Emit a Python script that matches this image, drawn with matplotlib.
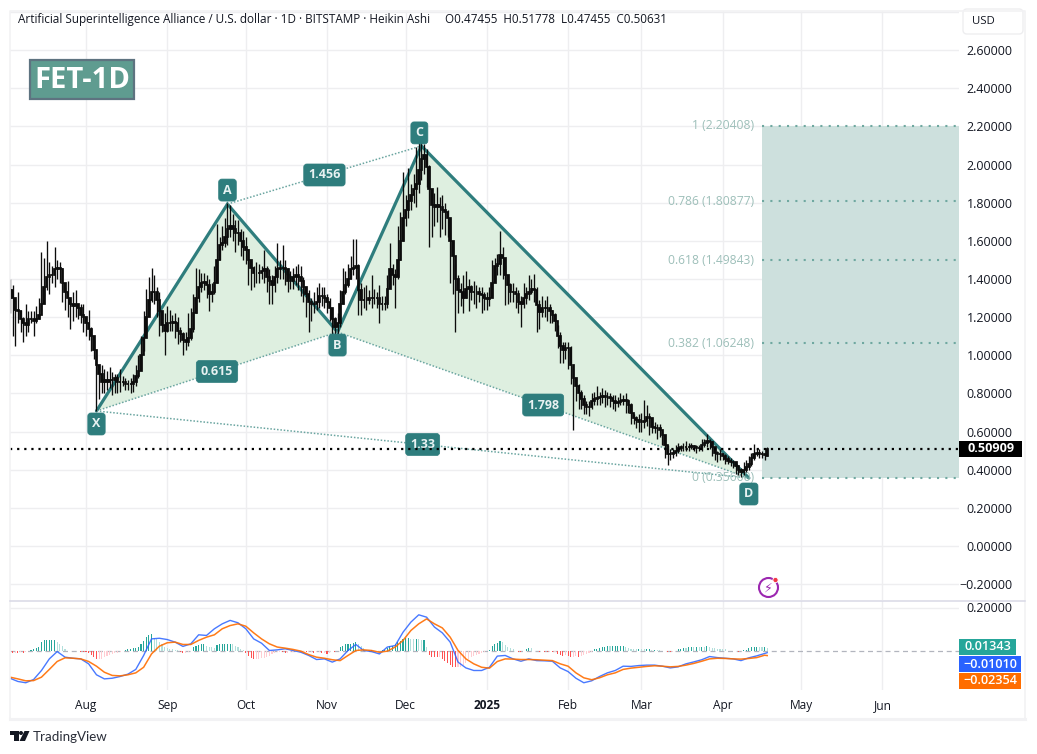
# -*- coding: utf-8 -*-
import pandas as pd
import numpy as np
import matplotlib
matplotlib.use("Agg")
from matplotlib import pyplot as plt
from matplotlib import dates as mdates
from matplotlib.patches import Rectangle, FancyBboxPatch, Polygon, Circle

W, H = 1037, 754

# one line per month, Jul 3 2024 -> Apr 18 2025 (heikin ashi)
opens = [
    1.30,1.34,1.30,1.24,1.23,1.19,1.17,1.16,1.19,1.19,1.18,1.19,1.21,1.27,1.36,1.41,1.42,1.42,1.45,1.46,1.45,1.38,1.33,1.30,1.27,1.26,1.27,1.25,1.21,
    1.20,1.17,1.14,1.10,1.03,.95,.90,.86,.87,.86,.87,.87,.88,.86,.86,.86,.85,.85,.85,.86,.89,.92,1.00,1.09,1.20,1.29,1.33,1.33,1.29,1.23,1.16,
    1.13,1.17,1.17,1.175,1.17,1.13,1.11,1.08,1.07,1.09,1.14,1.22,1.30,1.36,1.38,1.385,1.37,1.32,1.33,1.38,1.50,1.58,1.59,1.62,1.66,1.68,1.66,1.64,1.64,1.60,
    1.57,1.55,1.50,1.46,1.43,1.43,1.43,1.44,1.45,1.41,1.39,1.37,1.41,1.45,1.46,1.46,1.45,1.39,1.39,1.41,1.42,1.41,1.39,1.36,1.32,1.28,1.27,1.27,1.28,1.31,1.31,
    1.30,1.28,1.25,1.19,1.15,1.17,1.27,1.33,1.37,1.40,1.45,1.46,1.47,1.34,1.29,1.29,1.29,1.30,1.30,1.30,1.30,1.27,1.27,1.27,1.35,1.45,1.42,1.41,1.50,1.60,
    1.72,1.76,1.81,1.84,1.87,1.90,1.97,2.03,2.05,1.99,1.87,1.79,1.78,1.79,1.78,1.76,1.75,1.72,1.60,1.52,1.40,1.34,1.33,1.30,1.35,1.36,1.33,1.33,1.33,1.32,1.315,
    1.30,1.295,1.30,1.38,1.47,1.48,1.525,1.51,1.42,1.37,1.33,1.33,1.32,1.28,1.27,1.30,1.32,1.33,1.35,1.34,1.265,1.225,1.25,1.25,1.25,1.23,1.21,1.18,1.10,1.05,1.03,
    1.04,1.04,.95,.88,.84,.80,.77,.74,.73,.73,.76,.77,.775,.78,.785,.78,.78,.775,.76,.75,.755,.76,.765,.76,.74,.70,.67,.66,
    .65,.65,.655,.675,.67,.625,.62,.62,.61,.58,.53,.48,.485,.49,.50,.515,.52,.52,.52,.52,.525,.52,.515,.515,.53,.54,.55,.545,.52,.49,.48,
    .485,.47,.455,.445,.44,.44,.42,.40,.39,.40,.415,.43,.46,.485,.49,.485,.48,.47455,
]
closes = [
    1.34,1.30,1.24,1.23,1.19,1.17,1.16,1.19,1.19,1.18,1.19,1.21,1.27,1.36,1.41,1.42,1.42,1.45,1.46,1.45,1.38,1.33,1.30,1.27,1.26,1.27,1.25,1.21,1.20,
    1.17,1.14,1.10,1.03,.95,.90,.86,.87,.86,.87,.87,.88,.86,.86,.86,.85,.85,.85,.86,.89,.92,1.00,1.09,1.20,1.29,1.33,1.33,1.29,1.23,1.16,1.13,
    1.17,1.17,1.175,1.17,1.13,1.11,1.08,1.07,1.09,1.14,1.22,1.30,1.36,1.38,1.385,1.37,1.32,1.33,1.38,1.50,1.58,1.59,1.62,1.66,1.68,1.66,1.64,1.64,1.60,1.57,
    1.55,1.50,1.46,1.43,1.43,1.43,1.44,1.45,1.41,1.39,1.37,1.41,1.45,1.46,1.46,1.45,1.39,1.39,1.41,1.42,1.41,1.39,1.36,1.32,1.28,1.27,1.27,1.28,1.31,1.31,1.30,
    1.28,1.25,1.19,1.15,1.17,1.27,1.33,1.37,1.40,1.45,1.46,1.47,1.34,1.29,1.29,1.29,1.30,1.30,1.30,1.30,1.27,1.27,1.27,1.35,1.45,1.42,1.41,1.50,1.60,1.72,
    1.76,1.81,1.84,1.87,1.90,1.97,2.03,2.05,1.99,1.87,1.79,1.78,1.79,1.78,1.76,1.75,1.72,1.60,1.52,1.40,1.34,1.33,1.30,1.35,1.36,1.33,1.33,1.33,1.32,1.315,1.30,
    1.295,1.30,1.38,1.47,1.48,1.525,1.51,1.42,1.37,1.33,1.33,1.32,1.28,1.27,1.30,1.32,1.33,1.35,1.34,1.265,1.225,1.25,1.25,1.25,1.23,1.21,1.18,1.10,1.05,1.03,1.04,
    1.04,.95,.88,.84,.80,.77,.74,.73,.73,.76,.77,.775,.78,.785,.78,.78,.775,.76,.75,.755,.76,.765,.76,.74,.70,.67,.66,.65,
    .65,.655,.675,.67,.625,.62,.62,.61,.58,.53,.48,.485,.49,.50,.515,.52,.52,.52,.52,.525,.52,.515,.515,.53,.54,.55,.545,.52,.49,.48,.485,
    .47,.455,.445,.44,.44,.42,.40,.39,.40,.415,.43,.46,.485,.49,.485,.48,.475,.50631,
]
highs = [
    1.40,1.37,1.29,1.33,1.24,1.20,1.27,1.23,1.23,1.23,1.26,1.30,1.54,1.51,1.60,1.49,1.47,1.57,1.50,1.49,1.46,1.36,1.39,1.30,1.33,1.34,1.27,1.27,1.27,
    1.20,1.24,1.15,1.08,1.00,.94,.95,.93,.92,.94,.91,.90,.90,.93,.89,.88,.87,.88,.90,.95,1.00,1.10,1.23,1.35,1.41,1.46,1.42,1.36,1.33,1.23,1.22,
    1.26,1.24,1.21,1.22,1.20,1.15,1.12,1.12,1.22,1.25,1.32,1.46,1.45,1.43,1.43,1.42,1.40,1.38,1.47,1.69,1.62,1.68,1.72,1.80,1.79,1.74,1.71,1.71,1.66,1.65,
    1.62,1.56,1.50,1.47,1.49,1.48,1.47,1.55,1.47,1.45,1.42,1.47,1.59,1.50,1.58,1.50,1.46,1.44,1.46,1.47,1.48,1.47,1.41,1.36,1.34,1.30,1.33,1.36,1.38,1.36,1.36,
    1.32,1.30,1.25,1.20,1.22,1.34,1.46,1.44,1.48,1.52,1.61,1.61,1.48,1.38,1.36,1.37,1.34,1.42,1.35,1.33,1.37,1.31,1.31,1.42,1.59,1.48,1.45,1.68,1.75,1.96,
    1.84,1.98,1.90,1.95,2.09,2.145,2.13,2.11,2.08,2.00,1.85,1.85,1.88,1.83,1.84,1.80,1.76,1.72,1.60,1.48,1.42,1.38,1.42,1.44,1.40,1.37,1.39,1.37,1.36,1.36,1.33,
    1.33,1.36,1.50,1.51,1.53,1.65,1.57,1.47,1.42,1.38,1.38,1.36,1.34,1.31,1.38,1.36,1.42,1.40,1.425,1.36,1.29,1.31,1.29,1.31,1.27,1.24,1.22,1.16,1.12,1.07,1.07,
    1.07,1.05,.93,.88,.85,.82,.79,.76,.76,.80,.81,.84,.81,.83,.82,.81,.80,.79,.79,.78,.80,.79,.80,.77,.75,.69,.68,.69,
    .70,.765,.74,.70,.66,.65,.64,.64,.61,.58,.53,.51,.51,.53,.54,.53,.54,.55,.54,.54,.53,.53,.53,.56,.56,.585,.56,.55,.52,.50,.51,
    .49,.48,.47,.46,.45,.44,.42,.41,.44,.45,.47,.49,.535,.51,.51,.50,.49,.51778,
]
lows = [
    1.22,1.10,1.05,1.17,1.12,1.07,1.10,1.12,1.17,1.10,1.17,1.19,1.23,1.31,1.34,1.32,1.38,1.36,1.40,1.38,1.28,1.24,1.20,1.14,1.18,1.20,1.19,1.17,1.12,
    1.10,1.08,1.02,.98,.71,.77,.80,.80,.82,.83,.79,.80,.80,.81,.84,.82,.82,.80,.81,.84,.88,.93,1.02,1.12,1.24,1.28,1.27,1.20,1.10,1.12,1.00,
    1.12,1.13,1.13,1.09,1.06,1.07,1.00,1.03,1.05,1.08,1.12,1.22,1.28,1.33,1.34,1.30,1.23,1.28,1.32,1.38,1.50,1.55,1.57,1.58,1.62,1.60,1.54,1.58,1.52,1.50,
    1.48,1.37,1.34,1.36,1.38,1.38,1.40,1.38,1.33,1.27,1.27,1.33,1.38,1.40,1.40,1.37,1.33,1.35,1.35,1.37,1.34,1.31,1.28,1.20,1.12,1.18,1.22,1.24,1.25,1.26,1.25,
    1.22,1.18,1.09,1.10,1.11,1.15,1.27,1.32,1.36,1.40,1.42,1.40,1.21,1.21,1.25,1.24,1.27,1.25,1.27,1.25,1.17,1.24,1.24,1.25,1.38,1.37,1.25,1.40,1.50,1.60,
    1.68,1.72,1.76,1.80,1.78,1.85,1.92,1.95,1.88,1.57,1.62,1.68,1.70,1.62,1.66,1.63,1.62,1.38,1.32,1.12,1.22,1.26,1.22,1.30,1.23,1.29,1.27,1.25,1.28,1.22,1.24,
    1.24,1.26,1.31,1.40,1.42,1.42,1.40,1.265,1.27,1.28,1.28,1.25,1.22,1.15,1.25,1.27,1.29,1.32,1.28,1.12,1.14,1.20,1.20,1.18,1.17,1.17,1.13,1.04,.96,.96,.98,
    .93,.85,.61,.76,.72,.72,.69,.69,.68,.72,.74,.74,.74,.75,.73,.74,.73,.72,.71,.73,.74,.74,.70,.70,.64,.64,.62,.60,
    .60,.62,.63,.58,.59,.59,.56,.57,.53,.46,.425,.45,.46,.47,.49,.50,.50,.50,.50,.51,.50,.49,.50,.50,.52,.52,.51,.47,.45,.44,.45,
    .45,.43,.43,.42,.41,.38,.37,.36,.37,.39,.40,.42,.45,.47,.46,.46,.45,.47455,
]

# macd histogram, daily
macd_hist = [
    -.008,-.012,-.010,-.012,-.008,-.010,-.006,-.003,.003,.005,.012,.016,.039,.050,.051,.051,.051,.051,.039,.030,.023,.005,-.002,-.002,-.003,-.004,-.003,-.005,-.006,
    -.008,-.010,-.020,-.030,-.040,-.040,-.038,-.030,-.025,-.020,-.016,-.012,-.010,-.006,-.004,.003,.005,.008,.010,.012,.018,.030,.045,.062,.072,.075,.060,.052,.040,.028,.016,
    .010,.008,.006,.002,.001,-.006,-.012,-.012,-.008,-.003,.016,.020,.025,.030,.030,.020,.018,.015,.012,.025,.030,.032,.032,.032,.032,.028,.022,.015,.008,.002,
    -.012,-.025,-.035,-.040,-.040,-.038,-.035,-.035,-.032,-.025,-.018,-.012,-.008,-.006,-.008,-.012,-.012,-.008,-.006,-.004,-.004,-.006,-.006,-.008,-.008,-.008,-.010,-.008,-.008,-.012,-.012,
    -.014,-.012,-.004,-.008,-.002,.016,.023,.028,.030,.032,.035,.040,.030,.022,.010,.003,.002,.002,-.002,-.003,-.002,.002,.003,.012,.020,.022,.028,.038,.045,.055,
    .058,.058,.055,.054,.055,.052,.050,.050,.018,-.020,-.028,-.030,-.032,-.032,-.040,-.048,-.058,-.068,-.076,-.078,-.078,-.075,-.068,-.060,-.040,-.032,-.026,-.020,-.014,-.010,-.006,
    -.002,.004,.022,.030,.036,.043,.040,.024,.018,.010,.006,-.003,-.005,-.006,-.002,.008,.011,.010,-.002,-.004,-.005,-.004,-.005,-.006,-.005,-.006,-.006,-.015,-.020,-.024,-.022,
    -.025,-.028,-.028,-.026,-.028,-.024,-.020,-.016,-.012,-.008,.005,.008,.012,.016,.018,.020,.019,.020,.020,.022,.022,.022,.015,.012,.008,.006,.005,.007,
    .006,.005,.006,.006,.004,.004,.003,.002,-.002,-.004,-.006,-.008,-.005,-.002,.006,.008,.012,.010,.014,.016,.015,.017,.014,.018,.016,.020,.018,.012,.010,.008,.007,
    .006,.005,-.002,-.003,-.002,-.004,-.005,-.002,.001,.003,.010,.014,.016,.016,.015,.014,.014,.01343,
]
# macd + signal, read every third candle (last one is the final candle)
macd_line = [
    -.129,-.144,-.150,-.135,-.093,-.039,-.005,-.031,-.036,-.039,-.062,-.113,-.132,-.129,-.121,-.110,-.088,-.023,.054,.057,.051,.039,.019,.031,.073,.070,.101,.124,.140,.129,.101,.054,.034,.0,.003,.008,.0,-.008,-.023,-.042,-.039,-.054,-.039,.0,.028,.0,-.005,-.016,.016,.023,
    .085,.132,.166,.155,.109,.082,.039,-.054,-.081,-.093,-.093,-.078,-.026,-.023,-.039,-.050,-.039,-.047,-.048,-.050,-.081,-.098,-.129,-.150,-.141,-.121,-.104,-.093,-.073,-.074,-.070,-.068,-.068,-.073,-.081,-.076,-.062,-.053,-.043,-.028,-.033,-.036,-.039,-.047,-.034,-.025,-.014,-.0101,
]
signal_line = [
    -.124,-.132,-.141,-.140,-.124,-.088,-.051,-.034,-.036,-.039,-.051,-.073,-.101,-.116,-.118,-.113,-.104,-.078,-.016,.020,.036,.039,.028,.028,.047,.062,.073,.101,.116,.124,.113,.082,.054,.031,.016,.011,.005,-.003,-.019,-.031,-.036,-.043,-.047,-.023,.0,.003,.0,-.008,-.003,.016,
    .047,.093,.124,.147,.124,.105,.062,.0,-.039,-.062,-.078,-.082,-.051,-.039,-.040,-.042,-.042,-.043,-.045,-.047,-.062,-.073,-.104,-.127,-.136,-.127,-.113,-.104,-.088,-.082,-.078,-.074,-.071,-.073,-.076,-.074,-.068,-.060,-.050,-.039,-.036,-.037,-.039,-.040,-.037,-.033,-.022,-.02354,
]

# XABCD pattern
pat_names = ["X", "A", "B", "C", "D"]
pat_dates = ["2024-08-05", "2024-09-24", "2024-11-05", "2024-12-07", "2025-04-11"]
pat_prices = [0.708, 1.793, 1.122, 2.098, 0.3566]
pat_ratios = ["0.615", "1.456", "1.798", "1.33"]

# fib levels on the right
fib_levels = ["1", "0.786", "0.618", "0.382", "0"]
fib_prices = [2.20408, 1.80877, 1.49843, 1.06248, 0.3566]
fib_start = "2025-04-16"

last_price = 0.50909
price_ticks = [-0.2, 0, 0.2, 0.4, 0.6, 0.8, 1.0, 1.2, 1.4, 1.6, 1.8, 2.0, 2.2, 2.4, 2.6, 2.8]
month_ticks = ["2024-08-01", "2024-09-01", "2024-10-01", "2024-11-01", "2024-12-01", "2025-01-01",
               "2025-02-01", "2025-03-01", "2025-04-01", "2025-05-01", "2025-06-01"]
month_labels = ["Aug", "Sep", "Oct", "Nov", "Dec", "2025", "Feb", "Mar", "Apr", "May", "Jun"]

title = "Artificial Superintelligence Alliance / U.S. dollar \u00b7 1D \u00b7 BITSTAMP \u00b7 Heikin Ashi"
ohlc_text = "O0.47455  H0.51778  L0.47455  C0.50631"

TEAL = "#2e7d7d"
FILL = "#deefe0"
GRID = "#eeeef0"
FIBC = "#9dbfb9"
FONT = ["Open Sans", "DejaVu Sans"]
plt.rcParams["font.family"] = FONT


def num(d):
    return mdates.date2num(pd.Timestamp(d))


def px_axes(fig, x0, y0, x1, y1):
    return fig.add_axes([x0 / W, 1 - y1 / H, (x1 - x0) / W, (y1 - y0) / H])


days = mdates.date2num(pd.date_range("2024-07-03", periods=len(closes)))
opens, closes, highs, lows = map(np.array, (opens, closes, highs, lows))

fig = plt.figure(figsize=(W / 100, H / 100), dpi=100, facecolor="white")

# --- price pane
PX_DAY = 2.62
x_left = num("2024-08-01") + (10 - 86) / PX_DAY
x_right = num("2024-08-01") + (959 - 86) / PX_DAY
ax = px_axes(fig, 10, 11, 959, 600)
ax.set_xlim(x_left, x_right)
ax.set_ylim((546 - 600) / 190.7, (546 - 11) / 190.7)
for s in ax.spines.values():
    s.set_visible(False)
ax.set_axisbelow(True)
ax.grid(color=GRID, lw=1.0)
ax.set_xticks([num(d) for d in month_ticks])
ax.set_xticklabels([])
ax.tick_params(axis="x", length=0)
ax.yaxis.tick_right()
ax.set_yticks(price_ticks[:-1])
ax.set_yticklabels(["\u2212%.5f" % abs(p) if p < 0 else "%.5f" % p for p in price_ticks[:-1]], ha="right")
ax.tick_params(axis="y", length=0, labelsize=8.9, pad=38.5, labelcolor="#131722")
ax.axhline(price_ticks[-1], color=GRID, lw=1.0)

# pattern fill + lines
pat_x = [num(d) for d in pat_dates]
ax.fill(pat_x[:3], pat_prices[:3], color=FILL, lw=0, zorder=1)
ax.fill(pat_x[2:], pat_prices[2:], color=FILL, lw=0, zorder=1)
ax.plot(pat_x, pat_prices, color=TEAL, lw=2.3, zorder=2, solid_capstyle="round", solid_joinstyle="miter")
for a, b in [(0, 2), (1, 3), (2, 4), (0, 4)]:
    ax.plot([pat_x[a], pat_x[b]], [pat_prices[a], pat_prices[b]], color="#6aa5a0", lw=1.1,
            ls=(0, (1, 1.2)), zorder=2)

# fib block
fx = num(fib_start)
ax.add_patch(Rectangle((fx, fib_prices[-1]), x_right - fx, fib_prices[0] - fib_prices[-1],
                       facecolor="#cde0dd", edgecolor="none", zorder=1.5))
for lev, p in zip(fib_levels, fib_prices):
    ax.plot([fx, x_right], [p, p], color="#6fa8a0", lw=1.5, ls=(0, (1, 3)), zorder=2)
    ax.annotate("%s (%.5f)" % (lev, p), (fx, p), xytext=(-8, 0), textcoords="offset pixels",
                ha="right", va="center", fontsize=8.7, color=FIBC, zorder=3)

# candles
ax.vlines(days, lows, highs, color="#0c0c0c", lw=0.95, zorder=4)
ax.bar(days, closes - opens, bottom=opens, width=0.6, color="#0c0c0c", edgecolor="#0c0c0c", lw=1.25, zorder=4)

# pattern labels
box = dict(boxstyle="round,pad=0.36,rounding_size=0.25", fc=TEAL, ec=TEAL, lw=0.5)
offs = {"X": -13, "A": 14, "B": -13, "C": 13, "D": -16}
for n, xx, p in zip(pat_names, pat_x, pat_prices):
    ox = -2 if n == "C" else 0
    ax.annotate(n, (xx, p), xytext=(ox, offs[n]), textcoords="offset pixels", ha="center", va="center",
                fontsize=9, color="#e8f2f2", fontweight="bold", bbox=box, zorder=6)
for r, (a, b) in zip(pat_ratios, [(0, 2), (1, 3), (2, 4), (0, 4)]):
    ax.text((pat_x[a] + pat_x[b]) / 2, (pat_prices[a] + pat_prices[b]) / 2, r, ha="center", va="center",
            fontsize=9, color="#e8f2f2", fontweight="bold", bbox=box, zorder=6)

ax.plot([x_left, x_right], [last_price, last_price], color="black", lw=1.6, ls=(0, (1, 2.2)), zorder=7)

# --- macd pane
ax2 = px_axes(fig, 10, 600.5, 959, 690)
ax2.set_xlim(x_left, x_right)
ax2.set_ylim((650.5 - 690) / 215, (650.5 - 600.5) / 215)
for s in ax2.spines.values():
    s.set_visible(False)
ax2.set_axisbelow(True)
ax2.grid(color=GRID, lw=1.0)
ax2.set_xticks([num(d) for d in month_ticks])
ax2.set_xticklabels(month_labels)
for lab, txt in zip(ax2.get_xticklabels(), month_labels):
    if txt == "2025":
        lab.set_fontweight("bold")
ax2.tick_params(axis="x", length=0, labelsize=8.6, pad=6.5, labelcolor="#131722")
ax2.yaxis.tick_right()
ax2.set_yticks([0.2])
ax2.set_yticklabels(["0.20000"], ha="right")
ax2.tick_params(axis="y", length=0, labelsize=8.9, pad=38.5, labelcolor="#131722")
ax2.axhline(0, color="#b2b5be", lw=0.9, ls=(0, (4, 3)), zorder=1)

hist = np.array(macd_hist)
prev = np.r_[hist[0], hist[:-1]]
hist_colors = []
for v, p in zip(hist, prev):
    if v >= 0:
        hist_colors.append("#26a69a" if v >= p else "#b2dfdb")
    else:
        hist_colors.append("#ffcdd2" if v >= p else "#ff5252")
ax2.bar(days, hist, width=0.42, color=hist_colors, lw=0, zorder=2)
line_days = list(days[::3]) + [days[-1]]
ax2.plot(line_days[:len(macd_line)], macd_line, color="#2962ff", lw=1.0, alpha=0.85, zorder=3)
ax2.plot(line_days[:len(signal_line)], signal_line, color="#ff6d00", lw=1.1, alpha=0.9, zorder=3)

# --- overlay in pixels for frame, title, tags, logo
ov = fig.add_axes([0, 0, 1, 1], facecolor="none")
ov.set_xlim(0, W)
ov.set_ylim(H, 0)
ov.axis("off")
FRAME = "#f2f2f4"
ov.plot([10, 10, 1025, 1025], [718, 11, 11, 718], color=FRAME, lw=1.2)
ov.plot([10, 1025], [718.5, 718.5], color=FRAME, lw=2.2)
ov.plot([10, 1025], [600.5, 600.5], color="#d8d8e6", lw=1.1)

ov.text(18, 19.5, title, fontsize=8.5, va="center", color="#131722")
ov.text(445, 19.5, ohlc_text, fontsize=8.35, va="center", color="#131722")

ov.add_patch(Rectangle((29.5, 59.5), 104, 39, facecolor="#5f9c90", edgecolor="#5e7380", lw=1.6))
ov.text(82, 80.5, "FET-1D", fontsize=21, fontweight="bold", color="white", ha="center", va="center")

ov.add_patch(FancyBboxPatch((965, 11), 56, 21, boxstyle="round,pad=2,rounding_size=4", facecolor="white",
                            edgecolor="#eeeef0", lw=1))
ov.text(972, 22, "USD", fontsize=8.2, va="center", color="#131722")

tags = [("0.50909", 1015, 1022, 441, 457, "black", True), ("0.01343", 1011, 1016, 639, 655, "#26a69a", False),
        ("\u22120.01010", 1017, 1021, 656, 672, "#2962ff", False), ("\u22120.02354", 1017, 1021, 673, 689, "#ff6d00", False)]
for txt, xt, x1, y0, y1, col, bold in tags:
    ov.add_patch(Rectangle((959, y0), x1 - 959, y1 - y0, facecolor=col, edgecolor="none", zorder=5))
    ov.text(xt, (y0 + y1) / 2, txt, fontsize=9.1, color="white", ha="right",
            va="center", fontweight="bold" if bold else "semibold", zorder=6)

# replay icon
ov.add_patch(Circle((768.5, 587.5), 9.5, facecolor="white", edgecolor="#9c27b0", lw=1.5, zorder=5))
ov.text(768.5, 588, "\u26a1", fontsize=9, color="#9c27b0", ha="center", va="center", family=["DejaVu Sans"], zorder=6)
ov.add_patch(Circle((775.5, 580), 2.6, facecolor="#f23645", edgecolor="white", lw=0.6, zorder=7))

# logo
ov.add_patch(Polygon([(10, 731), (18.5, 731), (18.5, 741), (14, 741), (14, 735), (10, 735)], color="#131722", lw=0))
ov.add_patch(Circle((21, 733), 2, color="#131722", lw=0))
ov.add_patch(Polygon([(24.5, 731), (29.5, 731), (25, 741), (19.5, 741)], color="#131722", lw=0))
ov.text(33, 737, "TradingView", fontsize=9.6, va="center", color="#2a2e39", family=["Lato", "DejaVu Sans"])

fig.savefig("out.png", dpi=100)
